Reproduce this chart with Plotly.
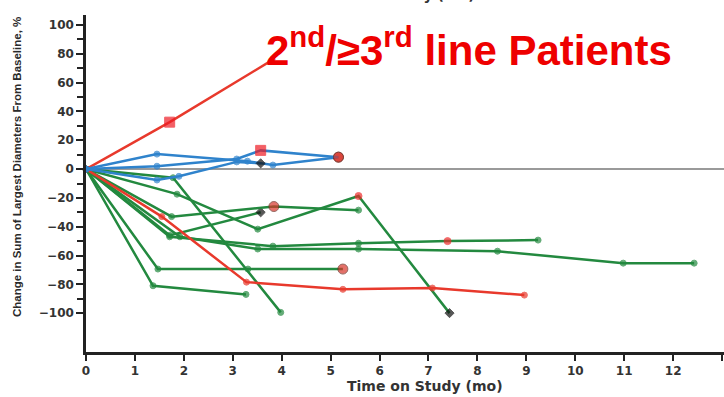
import plotly.graph_objects as go

# Time on study (months) and % change in sum of largest diameters, one pair per patient
# progressive disease
pd1_t = [0, 1.71, 3.82]
pd1_v = [0, 32.6, 76]
pd2_t = [0, 1.55, 3.28, 5.25, 7.08, 8.96]
pd2_v = [0, -33, -78.5, -83.5, -82.6, -87.5]

# stable disease
sd1_t = [0, 1.45, 3.3, 3.82, 5.16]
sd1_v = [0, 10.4, 5.5, 2.8, 8.3]
sd2_t = [0, 1.45, 3.08, 3.57, 5.16]
sd2_v = [0, 2, 7, 13, 8.3]
sd3_t = [0, 1.45, 1.9, 3.08, 3.57]
sd3_v = [0, -7.6, -5, 5, 4]

# partial response
pr1_t = [0, 1.86, 3.51, 5.57, 7.43]
pr1_v = [0, -17.4, -41.7, -18.7, -100]
pr2_t = [0, 1.78, 3.98]
pr2_v = [0, -6, -99.5]
pr3_t = [0, 1.71, 3.57]
pr3_v = [0, -46, -30]
pr4_t = [0, 1.75, 3.84, 5.57]
pr4_v = [0, -33, -26, -28.5]
pr5_t = [0, 1.92, 3.51, 5.57, 8.41, 10.98, 12.43]
pr5_v = [0, -47, -55.5, -55.5, -57, -65.3, -65.3]
pr6_t = [0, 1.71, 3.82, 5.57, 7.39, 9.24]
pr6_v = [0, -47, -53.5, -51.5, -50, -49.3]
pr7_t = [0, 1.47, 3.31, 5.25]
pr7_v = [0, -69.4, -69.4, -69.4]
pr8_t = [0, 1.37, 3.27]
pr8_v = [0, -81, -87]

x_ticks = list(range(0, 14))
y_ticks = [100, 80, 60, 40, 20, 0, -20, -40, -60, -80, -100]
y_minor = [90, 70, 50, 30, 10, -10, -30, -50, -70, -90]

GREEN = "#23893f"
RED = "#e8392c"
BLUE = "#2f83cc"

# point markers that differ from the plain dot: (series, point index) -> kind
special = {
    ("pd1", 1): "square", ("pd1", 2): "tip",
    ("sd1", 4): "ring", ("sd2", 3): "square", ("sd2", 4): "ring",
    ("sd3", 4): "black",
    ("pr1", 3): "reddot", ("pr1", 4): "black",
    ("pr3", 2): "black", ("pr4", 2): "ring", ("pr6", 4): "reddot",
    ("pr7", 3): "ring",
}
kind_style = {
    "square": dict(symbol="square", size=10, color="#ee1c25", line="#ee1c25"),
    "ring": dict(symbol="circle", size=10, color="#d8342a", line="#6b2a20"),
    "black": dict(symbol="diamond", size=7, color="#111111", line="#111111"),
    "tip": dict(symbol="circle", size=4, color="#3a2a2a", line="#3a2a2a"),
    "reddot": dict(symbol="circle", size=7, color="#ee2a2a", line="#ee2a2a"),
}

series = [
    ("pr1", pr1_t, pr1_v, GREEN), ("pr2", pr2_t, pr2_v, GREEN),
    ("pr3", pr3_t, pr3_v, GREEN), ("pr4", pr4_t, pr4_v, GREEN),
    ("pr5", pr5_t, pr5_v, GREEN), ("pr6", pr6_t, pr6_v, GREEN),
    ("pr7", pr7_t, pr7_v, GREEN), ("pr8", pr8_t, pr8_v, GREEN),
    ("pd1", pd1_t, pd1_v, RED), ("pd2", pd2_t, pd2_v, RED),
    ("sd1", sd1_t, sd1_v, BLUE), ("sd2", sd2_t, sd2_v, BLUE),
    ("sd3", sd3_t, sd3_v, BLUE),
]

fig = go.Figure()

# reference line at 0 %
fig.add_shape(type="line", xref="x", yref="y", x0=0, x1=13.1, y0=0, y1=0,
              line=dict(color="#9a9a9a", width=2), layer="below")

for name, t, v, col in series:
    symbols, sizes, colors, lines = [], [], [], []
    for i in range(len(t)):
        k = special.get((name, i))
        if k is None:
            symbols.append("circle"); sizes.append(6); colors.append(col); lines.append(col)
        else:
            s = kind_style[k]
            symbols.append(s["symbol"]); sizes.append(s["size"])
            colors.append(s["color"]); lines.append(s["line"])
    fig.add_trace(go.Scatter(
        x=t, y=v, mode="lines+markers", name=name, showlegend=False,
        line=dict(color=col, width=2.5),
        marker=dict(symbol=symbols, size=sizes, color=colors,
                    line=dict(color=lines, width=1)),
        cliponaxis=False,
    ))

tick_font = dict(family="DejaVu Sans", size=12, color="#333333", weight="bold")

fig.update_layout(
    width=724, height=397,
    margin=dict(l=86, r=0, t=15, b=45),
    paper_bgcolor="white", plot_bgcolor="white",
    xaxis=dict(range=[0, 13.04], tickvals=x_ticks, ticks="outside", ticklen=6,
               tickwidth=2, tickcolor="#222", showline=True, linecolor="#222",
               linewidth=2.5, showgrid=False, zeroline=False, tickfont=tick_font),
    yaxis=dict(range=[-127, 107], tickvals=y_ticks, ticks="outside", ticklen=7,
               tickwidth=2, tickcolor="#222", showline=True, linecolor="#222",
               linewidth=2.5, showgrid=False, zeroline=False, tickfont=tick_font,
               minor=dict(tickvals=y_minor, ticks="outside", ticklen=6,
                          tickwidth=2, tickcolor="#222")),
)

fig.add_annotation(
    text="2<sup>nd</sup>/≥3<sup>rd</sup> line Patients",
    xref="paper", yref="paper", x=0.601, y=0.905, xanchor="center", yanchor="middle",
    showarrow=False,
    font=dict(family="Liberation Sans", size=42, color="#ee0000", weight="bold"),
)
fig.add_annotation(
    text="Time on Study (mo)", xref="paper", yref="paper", x=0.531, y=-0.101,
    xanchor="center", yanchor="middle", showarrow=False,
    font=dict(family="DejaVu Sans", size=14, color="#333333", weight="bold"),
)
fig.add_annotation(
    text="Time on Study (mo)", xref="paper", yref="paper", x=0.487, y=1.03,
    xanchor="center", yanchor="bottom", showarrow=False,
    font=dict(family="DejaVu Sans", size=14, color="#333333", weight="bold"),
)
fig.add_annotation(
    text="Change in Sum of Largest Diameters From Baseline, %",
    xref="paper", yref="paper", x=-0.108, y=0.549, textangle=-90,
    xanchor="center", yanchor="middle", showarrow=False,
    font=dict(family="Liberation Sans", size=11.5, color="#2a2a2a", weight="bold"),
)

fig.write_html("out.html")
